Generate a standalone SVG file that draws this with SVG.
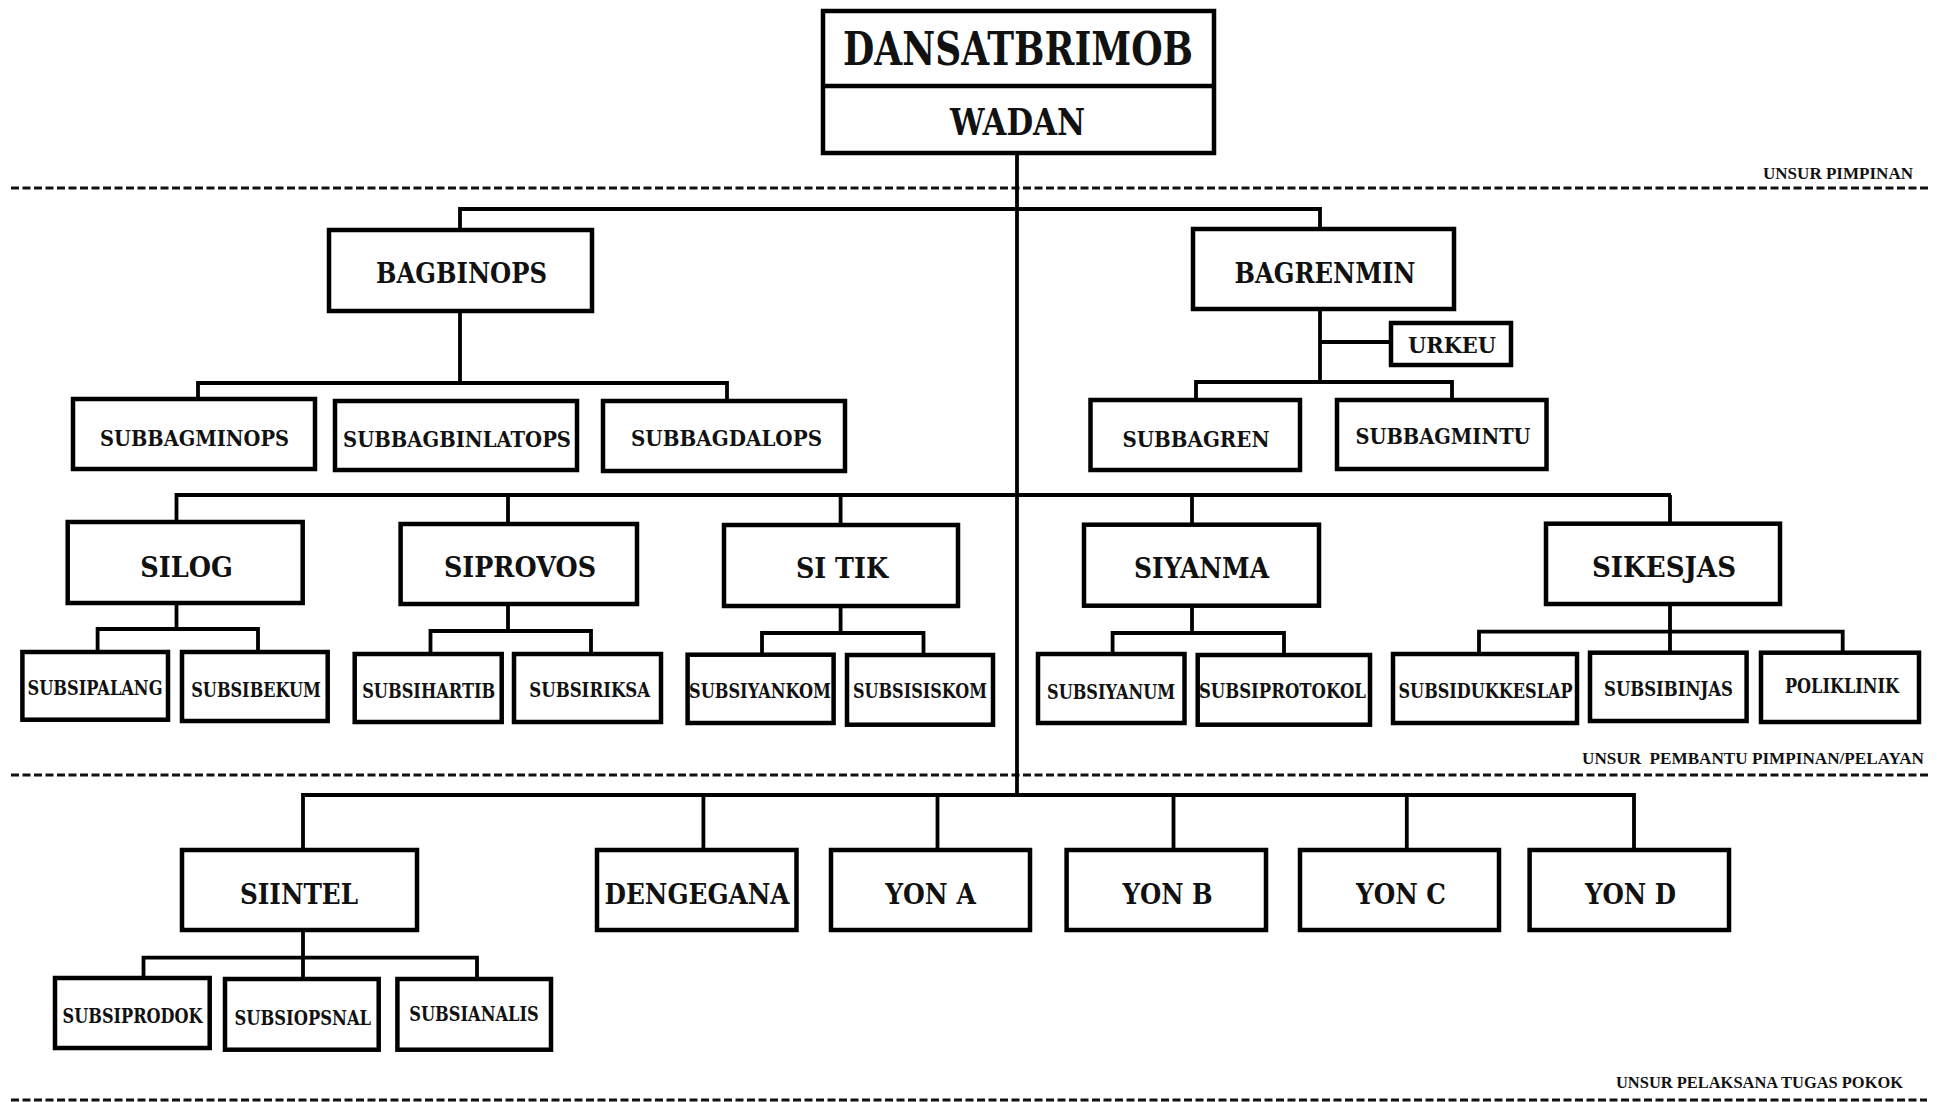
<svg xmlns="http://www.w3.org/2000/svg" width="1938" height="1102" viewBox="0 0 1938 1102">
<style>
.box{fill:#fff;stroke:#000;stroke-width:4.5}
.c{fill:none;stroke:#000;stroke-width:3.8}
.d{fill:none;stroke:#111;stroke-width:3;stroke-dasharray:8 3.5}
text{font-family:"DejaVu Serif","Liberation Serif",serif;font-weight:bold;text-anchor:middle;fill:#111}
.t1{font-size:46px}
.t2{font-size:28px}
.t3{font-size:22px}
.t4{font-size:20px}
.lb{font-family:"Liberation Serif","DejaVu Serif",serif;font-size:16px;text-anchor:end}
</style>
<rect x="0" y="0" width="1938" height="1102" fill="#fff"/>
<g id="connectors">
<line class="d" x1="11" y1="188" x2="1929" y2="188"/>
<line class="d" x1="11" y1="775" x2="1928" y2="775"/>
<line class="d" x1="11" y1="1100" x2="1927" y2="1100"/>
<path class="c" d="M1017 155V795"/>
<path class="c" d="M460 228V209H1320V227"/>
<path class="c" d="M460 313V383M198 397V383H727V399"/>
<path class="c" d="M1320 311V382M1320 342H1389M1196 398V382H1452V398"/>
<path class="c" d="M176.5 520V495H1671M508 495V522M840.6 495V523M1192 495V523M1670 495V522"/>
<path class="c" d="M176.5 605V629M97.6 650V629H258V650"/>
<path class="c" d="M508 606V631M430.5 652V631H591V652"/>
<path class="c" d="M840.6 608V633M762 653V633H923.5V653"/>
<path class="c" d="M1192 608V633M1112.6 652V633H1284V653"/>
<path class="c" d="M1670 606V651M1479 652V631.7H1842.7V651"/>
<path class="c" d="M303 848V795H1634V848M703.4 795V848M937.5 795V848M1173.5 795V848M1406.8 795V848"/>
<path class="c" d="M303 932V977M143.5 976V957.7H477V977"/>
</g>
<g id="labels">
<text class="lb" x="1913" y="179" textLength="150" lengthAdjust="spacingAndGlyphs">UNSUR PIMPINAN</text>
<text class="lb" x="1924" y="764" textLength="342" lengthAdjust="spacingAndGlyphs" xml:space="preserve">UNSUR  PEMBANTU PIMPINAN/PELAYAN</text>
<text class="lb" x="1903" y="1088" textLength="287" lengthAdjust="spacingAndGlyphs">UNSUR PELAKSANA TUGAS POKOK</text>
</g>
<g id="dansatbrimob">
<rect class="box" x="823" y="11" width="391" height="142"/>
<line class="c" x1="823" y1="86" x2="1214" y2="86" style="stroke-width:4.5"/>
<text class="t1" x="1018" y="65" textLength="350" lengthAdjust="spacingAndGlyphs">DANSATBRIMOB</text>
<text class="t1" x="1017.5" y="135" style="font-size:37px" textLength="135" lengthAdjust="spacingAndGlyphs">WADAN</text>
</g>
<g id="bagbinops"><rect class="box" x="329" y="230" width="263" height="81"/><text class="t2" x="461.5" y="283" textLength="171" lengthAdjust="spacingAndGlyphs">BAGBINOPS</text></g>
<g id="subbagminops"><rect class="box" x="73" y="399" width="242" height="70"/><text class="t3" x="194.5" y="446" textLength="189" lengthAdjust="spacingAndGlyphs">SUBBAGMINOPS</text></g>
<g id="subbagbinlatops"><rect class="box" x="335" y="401" width="242" height="69"/><text class="t3" x="457" y="447" textLength="228" lengthAdjust="spacingAndGlyphs">SUBBAGBINLATOPS</text></g>
<g id="subbagdalops"><rect class="box" x="603" y="401" width="242" height="70"/><text class="t3" x="726.5" y="446" textLength="191" lengthAdjust="spacingAndGlyphs">SUBBAGDALOPS</text></g>
<g id="bagrenmin"><rect class="box" x="1193" y="229" width="261" height="80"/><text class="t2" x="1325" y="283" textLength="181" lengthAdjust="spacingAndGlyphs">BAGRENMIN</text></g>
<g id="urkeu"><rect class="box" x="1391" y="323" width="120" height="42"/><text class="t3" x="1452" y="352.5" textLength="88" lengthAdjust="spacingAndGlyphs">URKEU</text></g>
<g id="subbagren"><rect class="box" x="1090.5" y="400" width="209.5" height="70"/><text class="t3" x="1196" y="446.5" textLength="147" lengthAdjust="spacingAndGlyphs">SUBBAGREN</text></g>
<g id="subbagmintu"><rect class="box" x="1337" y="400" width="209.5" height="69"/><text class="t3" x="1443" y="444" textLength="175" lengthAdjust="spacingAndGlyphs">SUBBAGMINTU</text></g>
<g id="silog"><rect class="box" x="67.7" y="522" width="235" height="81"/><text class="t2" x="186.5" y="576.5" textLength="92.5" lengthAdjust="spacingAndGlyphs">SILOG</text></g>
<g id="siprovos"><rect class="box" x="400.6" y="524" width="236.4" height="80"/><text class="t2" x="520" y="577" textLength="152" lengthAdjust="spacingAndGlyphs">SIPROVOS</text></g>
<g id="sitik"><rect class="box" x="724" y="525" width="234" height="81"/><text class="t2" x="842" y="578" textLength="92" lengthAdjust="spacingAndGlyphs" xml:space="preserve">SI TIK</text></g>
<g id="siyanma"><rect class="box" x="1084" y="524.7" width="235" height="81"/><text class="t2" x="1201.5" y="578" textLength="135" lengthAdjust="spacingAndGlyphs">SIYANMA</text></g>
<g id="sikesjas"><rect class="box" x="1546" y="523.7" width="234" height="80.3"/><text class="t2" x="1664" y="577" textLength="144" lengthAdjust="spacingAndGlyphs">SIKESJAS</text></g>
<g id="subsipalang"><rect class="box" x="22.4" y="652" width="145.6" height="67.7"/><text class="t4" x="95" y="695" textLength="135" lengthAdjust="spacingAndGlyphs">SUBSIPALANG</text></g>
<g id="subsibekum"><rect class="box" x="182" y="652" width="145.7" height="69"/><text class="t4" x="256" y="696.7" textLength="129.5" lengthAdjust="spacingAndGlyphs">SUBSIBEKUM</text></g>
<g id="subsihartib"><rect class="box" x="354.7" y="654" width="147" height="68"/><text class="t4" x="428.7" y="697.7" textLength="133" lengthAdjust="spacingAndGlyphs">SUBSIHARTIB</text></g>
<g id="subsiriksa"><rect class="box" x="514" y="654" width="147" height="68"/><text class="t4" x="589.7" y="696.7" textLength="121" lengthAdjust="spacingAndGlyphs">SUBSIRIKSA</text></g>
<g id="subsiyankom"><rect class="box" x="687.6" y="654.7" width="146" height="68.3"/><text class="t4" x="760" y="697.7" textLength="142" lengthAdjust="spacingAndGlyphs">SUBSIYANKOM</text></g>
<g id="subsisiskom"><rect class="box" x="847" y="655" width="146" height="69.7"/><text class="t4" x="920" y="698" textLength="134" lengthAdjust="spacingAndGlyphs">SUBSISISKOM</text></g>
<g id="subsiyanum"><rect class="box" x="1038" y="654" width="146.5" height="69"/><text class="t4" x="1111" y="699" textLength="128" lengthAdjust="spacingAndGlyphs">SUBSIYANUM</text></g>
<g id="subsiprotokol"><rect class="box" x="1197.7" y="655" width="172.3" height="69.7"/><text class="t4" x="1282.4" y="698" textLength="167" lengthAdjust="spacingAndGlyphs">SUBSIPROTOKOL</text></g>
<g id="subsidukkeslap"><rect class="box" x="1393" y="654" width="184" height="69"/><text class="t4" x="1485.5" y="698" textLength="174" lengthAdjust="spacingAndGlyphs">SUBSIDUKKESLAP</text></g>
<g id="subsibinjas"><rect class="box" x="1590" y="652.7" width="156.6" height="68.3"/><text class="t4" x="1668.5" y="696" textLength="129" lengthAdjust="spacingAndGlyphs">SUBSIBINJAS</text></g>
<g id="poliklinik"><rect class="box" x="1761" y="652.7" width="158" height="69.3"/><text class="t4" x="1842" y="693" textLength="114" lengthAdjust="spacingAndGlyphs">POLIKLINIK</text></g>
<g id="siintel"><rect class="box" x="182" y="850" width="235" height="80"/><text class="t2" x="299" y="904" textLength="118" lengthAdjust="spacingAndGlyphs">SIINTEL</text></g>
<g id="dengegana"><rect class="box" x="597" y="850" width="199.5" height="80"/><text class="t2" x="697" y="904" textLength="185" lengthAdjust="spacingAndGlyphs">DENGEGANA</text></g>
<g id="yona"><rect class="box" x="831" y="850" width="199" height="80"/><text class="t2" x="930.5" y="904" textLength="90.6" lengthAdjust="spacingAndGlyphs" xml:space="preserve">YON A</text></g>
<g id="yonb"><rect class="box" x="1066.6" y="850" width="199.4" height="80"/><text class="t2" x="1167.5" y="904" textLength="90" lengthAdjust="spacingAndGlyphs" xml:space="preserve">YON B</text></g>
<g id="yonc"><rect class="box" x="1300" y="850" width="199" height="80"/><text class="t2" x="1401" y="904" textLength="90" lengthAdjust="spacingAndGlyphs" xml:space="preserve">YON C</text></g>
<g id="yond"><rect class="box" x="1529.6" y="850" width="199.4" height="80"/><text class="t2" x="1630.5" y="904" textLength="91" lengthAdjust="spacingAndGlyphs" xml:space="preserve">YON D</text></g>
<g id="subsiprodok"><rect class="box" x="55" y="978" width="154.7" height="70"/><text class="t4" x="132.6" y="1023" textLength="140" lengthAdjust="spacingAndGlyphs">SUBSIPRODOK</text></g>
<g id="subsiopsnal"><rect class="box" x="225" y="979" width="153.7" height="70.7"/><text class="t4" x="302.8" y="1025" textLength="136.5" lengthAdjust="spacingAndGlyphs">SUBSIOPSNAL</text></g>
<g id="subsianalis"><rect class="box" x="397.4" y="979" width="153.6" height="70.7"/><text class="t4" x="474" y="1020.7" textLength="129.5" lengthAdjust="spacingAndGlyphs">SUBSIANALIS</text></g>
</svg>
